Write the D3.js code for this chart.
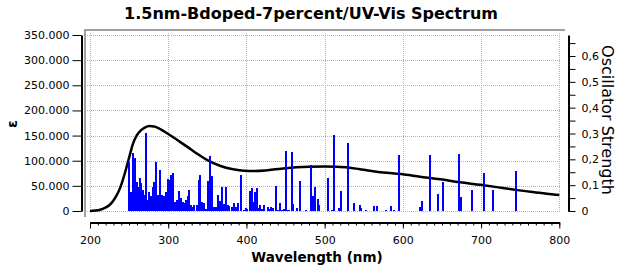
<!DOCTYPE html>
<html><head><meta charset="utf-8">
<script src="https://cdn.jsdelivr.net/npm/d3@7"></script>
<style>body{margin:0;background:#fff}svg{display:block}text{font-family:"DejaVu Sans",sans-serif}</style>
</head><body>
<svg id="c" width="622" height="268"></svg>
<script>
// ---- data ----
const curveNm  = [200,207,213,219,225,230,234,238,242,246,250,255,260,265,270,276,282,288,295,305,315,325,335,350,366,383,397,410,424,437,450,464,480,500,515,530,545,560,575,597,622,648,673,699,720,741,763,784,800];
const curveEps = [0,800,2500,6000,12000,21000,31000,44000,62000,83000,106000,134000,151000,160500,166000,169000,168000,164500,158000,148000,137500,127000,116000,101000,90000,83000,80000,79500,80500,83000,85000,87000,88200,88500,88000,86500,83000,79500,76500,73600,68300,63000,57000,52000,47500,42800,38200,34500,31800];

const stickNm = [250.1,252.0,253.5,255.2,257.2,258.9,260.6,262.3,264.0,265.7,267.4,269.1,271.2,273.6,275.7,277.8,280.0,281.9,284.0,286.4,288.9,291.7,294.5,297.0,299.2,301.3,303.4,305.6,308.3,311.5,314.1,316.2,318.3,320.5,322.6,324.7,326.9,329.0,331.1,333.1,336.5,338.8,341.0,343.5,346.1,348.6,351.4,353.5,355.7,358.0,361.0,364.0,366.1,368.5,370.8,373.4,375.9,378.0,381.2,384.7,387.2,389.8,392.5,396.6,399.1,401.3,404.5,406.6,408.7,410.9,413.2,415.6,417.9,420.3,422.4,427.3,429.4,431.3,433.5,437.7,439.9,442.4,445.2,447.8,450.3,452.7,454.6,458.0,460.1,464.6,468.7,476.1,482.5,484.2,485.7,487.6,491.5,493.4,504.9,509.4,512.1,518.3,520.7,529.6,537.3,545.0,547.1,552.7,562.6,566.8,578.5,584.9,588.7,595.2,621.7,624.1,634.9,645.0,651.0,671.9,674.5,688.6,703.8,715.7,744.7];
const stickF  = [0.191,0.075,0.043,0.223,0.204,0.049,0.113,0.094,0.127,0.107,0.081,0.062,0.303,0.043,0.075,0.058,0.094,0.114,0.188,0.062,0.159,0.062,0.058,0.075,0.123,0.120,0.139,0.148,0.036,0.043,0.079,0.049,0.036,0.030,0.043,0.058,0.081,0.023,0.017,0.023,0.023,0.120,0.139,0.036,0.030,0.006,0.116,0.213,0.137,0.017,0.014,0.062,0.040,0.094,0.026,0.094,0.023,0.019,0.014,0.030,0.014,0.032,0.139,0.004,0.010,0.006,0.077,0.088,0.036,0.075,0.088,0.010,0.023,0.006,0.023,0.014,0.006,0.014,0.012,0.097,0.003,0.030,0.004,0.006,0.232,0.003,0.003,0.228,0.027,0.010,0.116,0.003,0.178,0.053,0.058,0.094,0.046,0.023,0.129,0.003,0.294,0.010,0.077,0.265,0.032,0.023,0.010,0.004,0.019,0.019,0.004,0.019,0.003,0.217,0.014,0.039,0.217,0.066,0.114,0.221,0.054,0.081,0.148,0.081,0.156];

const xTicks = [200,300,400,500,600,700,800];
const xMinorTicks = d3.range(200, 801, 10);
const yTicks = [0,50000,100000,150000,200000,250000,300000,350000];
const fTicks = [0,0.05,0.1,0.15,0.2,0.25,0.3,0.35,0.4,0.45,0.5,0.55,0.6,0.65];
const fLabels = [0,0.1,0.2,0.3,0.4,0.5,0.6];

const titleText = "1.5nm-Bdoped-7percent/UV-Vis Spectrum";
const xTitle = "Wavelength (nm)";
const yTitle = "ε";
const y2Title = "Oscillator Strength";

// ---- drawing ----
const svg = d3.select("#c");
const x  = d3.scaleLinear().domain([200, 800]).range([90, 559.3]);
const y  = d3.scaleLinear().domain([0, 350000]).range([211, 35]);
const yf = d3.scaleLinear().domain([0, 176/258.33]).range([211, 35]);

// frame
svg.append("rect").attr("x",84).attr("y",29).attr("width",481).attr("height",2).attr("fill","#a0a0a0");
svg.append("rect").attr("x",84).attr("y",29).attr("width",2).attr("height",188).attr("fill","#a0a0a0");

// grid
const grid = svg.append("g").attr("stroke","#b4b4b4").attr("stroke-width",1).attr("stroke-dasharray","1,1");
grid.selectAll("line.v").data(xTicks).join("line")
  .attr("x1", d=>Math.round(x(d))+0.5).attr("x2", d=>Math.round(x(d))+0.5)
  .attr("y1", 33).attr("y2", 213);
grid.selectAll("line.h").data(yTicks).join("line")
  .attr("x1", 87).attr("x2", 561)
  .attr("y1", d=>Math.round(y(d))+0.5).attr("y2", d=>Math.round(y(d))+0.5);

// curve
const line = d3.line().x((d,i)=>x(curveNm[i])).y((d,i)=>y(curveEps[i])).curve(d3.curveMonotoneX);
svg.append("path").datum(curveNm).attr("d", line)
  .attr("fill","none").attr("stroke","#000").attr("stroke-width",2.5).attr("stroke-linejoin","round");

// sticks
svg.append("g").attr("shape-rendering","crispEdges").selectAll("rect").data(stickNm).join("rect")
  .attr("x", d=>Math.round(x(d)-1)).attr("width", 2)
  .attr("y", (d,i)=>yf(stickF[i])).attr("height", (d,i)=>211-yf(stickF[i]))
  .attr("fill","#0000ff");

// left axis
const fmtL = d => d===0 ? "0" : d3.format(",")(d).replace(/,/g,".");
const gL = svg.append("g").attr("transform","translate(81.5,0)")
  .call(d3.axisLeft(y).tickValues(yTicks).tickSize(9).tickSizeOuter(0).tickPadding(3).tickFormat(fmtL));
gL.select(".domain").attr("stroke-width",2);
gL.selectAll("text").attr("font-size",11).attr("font-family","DejaVu Sans").attr("fill","#000");

// bottom axis
const gBm = svg.append("g").attr("transform","translate(0,222.5)")
  .call(d3.axisBottom(x).tickValues(xMinorTicks).tickSize(3).tickSizeOuter(0).tickFormat(""));
gBm.select(".domain").remove();
const gB = svg.append("g").attr("transform","translate(0,222.5)")
  .call(d3.axisBottom(x).tickValues(xTicks).tickSize(6).tickSizeOuter(0));
gB.select(".domain").attr("stroke-width",2);
gB.selectAll("text").attr("font-size",11).attr("font-family","DejaVu Sans").attr("fill","#000").attr("y",21).attr("dy",0);

// right axis
const fmtR = d => fLabels.some(v=>Math.abs(v-d)<1e-9) ? (d===0 ? "0" : d3.format(".1f")(d).replace(".",",")) : "";
const gR = svg.append("g").attr("transform","translate(568.5,0)")
  .call(d3.axisRight(yf).tickValues(fTicks).tickSize(7).tickSizeOuter(0).tickPadding(6).tickFormat(fmtR));
gR.select(".domain").attr("stroke-width",2);
gR.selectAll("text").attr("font-size",11).attr("font-family","DejaVu Sans").attr("fill","#000");

// titles
svg.append("text").attr("x",311).attr("y",19).attr("text-anchor","middle")
  .attr("font-size",16).attr("font-weight","bold").text(titleText);
svg.append("text").attr("x",317).attr("y",262).attr("text-anchor","middle")
  .attr("font-size",13.5).attr("font-weight","bold").text(xTitle);
svg.append("text").attr("transform","translate(17,124) rotate(-90)").attr("text-anchor","middle")
  .attr("font-size",14).attr("font-weight","bold").text(yTitle);
svg.append("text").attr("transform","translate(602,120) rotate(90)").attr("text-anchor","middle")
  .attr("font-size",16).text(y2Title);
</script>
</body></html>
